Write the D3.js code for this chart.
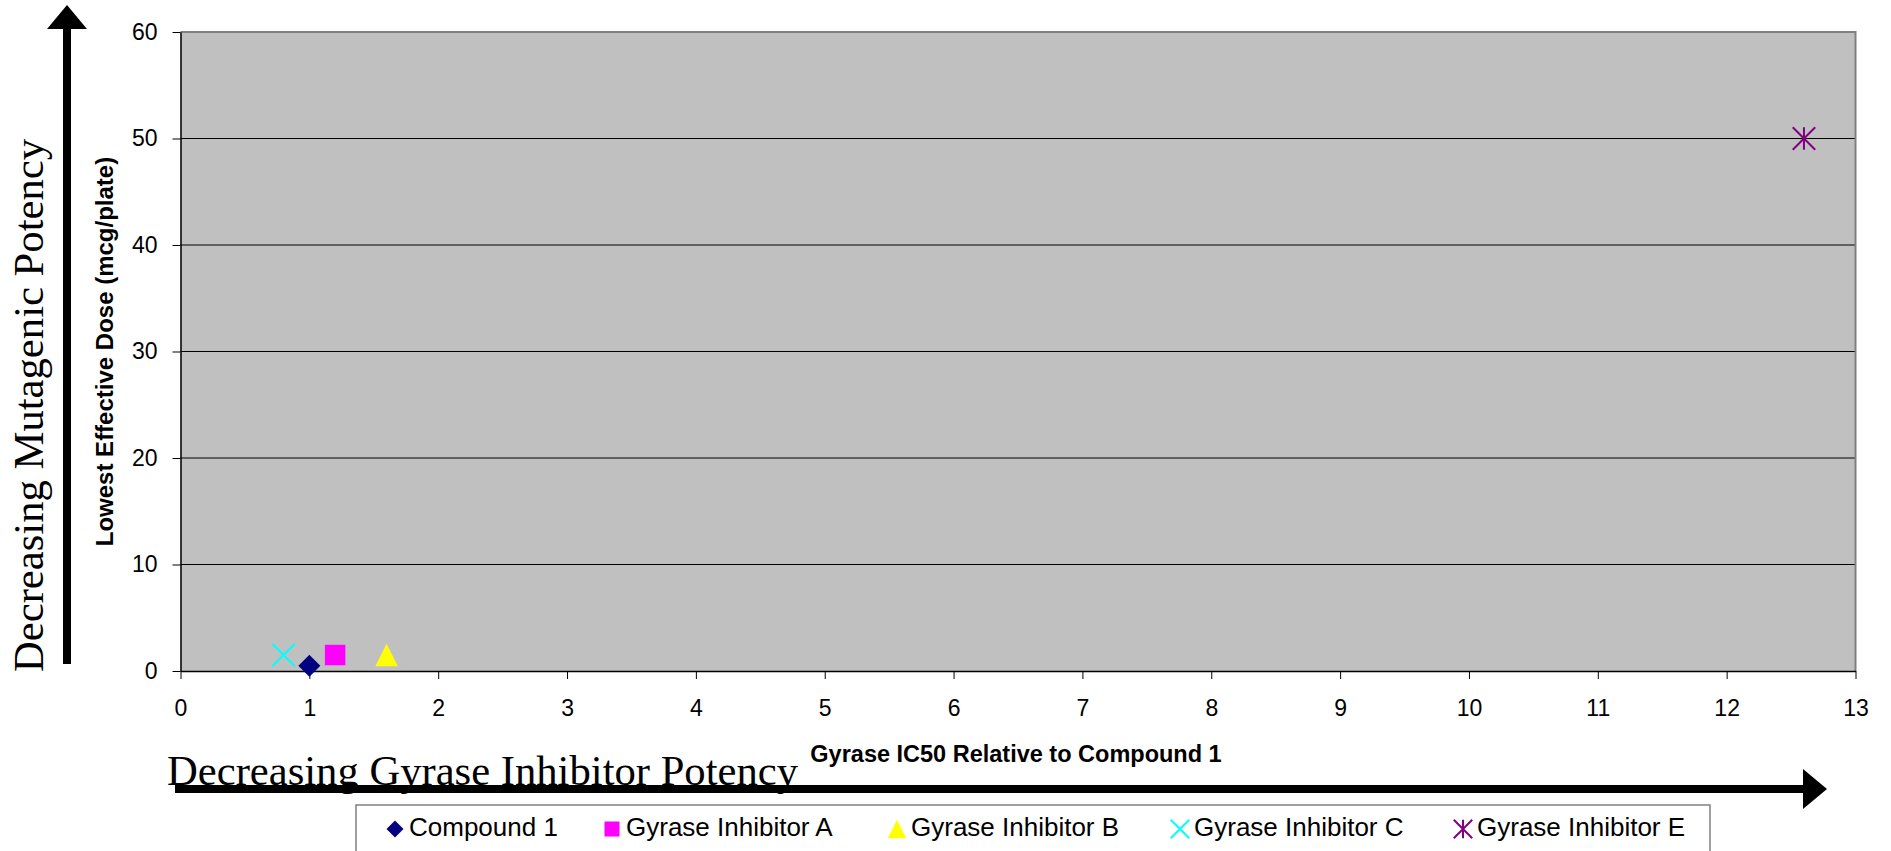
<!DOCTYPE html>
<html>
<head>
<meta charset="utf-8">
<script src="https://cdn.jsdelivr.net/npm/d3@7"></script>
<style>
  html, body { margin: 0; padding: 0; background: #fff; }
  svg { display: block; }
</style>
</head>
<body>
<svg id="chart" width="1891" height="851"></svg>
<script>
// Compounds and their measured values
const compounds = ["Compound 1", "Gyrase Inhibitor A", "Gyrase Inhibitor B", "Gyrase Inhibitor C", "Gyrase Inhibitor E"];
const ic50Relative = [1, 1.2, 1.6, 0.8, 12.6];        // Gyrase IC50 relative to Compound 1
const lowestEffectiveDose = [0.5, 1.5, 1.5, 1.5, 50];  // mcg/plate
const markerShapes = ["diamond", "square", "triangle", "x", "star"];
const markerColors = ["#000080", "#FF00FF", "#FFFF00", "#00FFFF", "#800080"];
const xTicks = d3.range(0, 14);
const yTicks = [0, 10, 20, 30, 40, 50, 60];

const svg = d3.select("#chart");
const plot = { left: 180.5, right: 1855.5, top: 32, bottom: 671 };

const x = d3.scaleLinear().domain([0, 13]).range([plot.left, plot.right]);
const y = d3.scaleLinear().domain([0, 60]).range([plot.bottom, plot.top]);

// Plot area
svg.append("rect")
  .attr("x", plot.left).attr("y", plot.top)
  .attr("width", plot.right - plot.left).attr("height", plot.bottom - plot.top)
  .attr("fill", "#C0C0C0");

// Horizontal gridlines
svg.append("g").selectAll("line")
  .data(yTicks.filter(d => d > 0 && d < 60))
  .join("line")
  .attr("x1", plot.left).attr("x2", plot.right)
  .attr("y1", d => y(d)).attr("y2", d => y(d))
  .attr("stroke", "#000").attr("stroke-width", 1);

// Top and right border
svg.append("path")
  .attr("d", `M${plot.left},${plot.top}H${plot.right}V${plot.bottom}`)
  .attr("fill", "none").attr("stroke", "#808080").attr("stroke-width", 2);

// Axes
const yAxis = d3.axisLeft(y).tickValues(yTicks).tickSize(8).tickPadding(15).tickSizeOuter(0);
const xAxis = d3.axisBottom(x).tickValues(xTicks).tickSize(8).tickPadding(21).tickSizeOuter(0);

const gy = svg.append("g").attr("transform", `translate(${plot.left},0)`).call(yAxis);
const gx = svg.append("g").attr("transform", `translate(0,${plot.bottom})`).call(xAxis);

[gx, gy].forEach(g => {
  g.select(".domain").attr("stroke", "#000").attr("stroke-width", 1.5);
  g.selectAll(".tick line").attr("stroke", "#000").attr("stroke-width", 1);
  g.selectAll(".tick text")
    .attr("fill", "#000")
    .style("font-family", "'Liberation Sans', Arial, sans-serif")
    .style("font-size", "23px");
});

// Axis titles
svg.append("text")
  .attr("transform", `translate(113,${(plot.top + plot.bottom) / 2}) rotate(-90)`)
  .attr("text-anchor", "middle")
  .style("font-family", "'Liberation Sans', Arial, sans-serif")
  .style("font-weight", "bold")
  .style("font-size", "24px")
  .text("Lowest Effective Dose (mcg/plate)");

svg.append("text")
  .attr("x", (plot.left + plot.right) / 2 - 2)
  .attr("y", 762)
  .attr("text-anchor", "middle")
  .style("font-family", "'Liberation Sans', Arial, sans-serif")
  .style("font-weight", "bold")
  .style("font-size", "23.5px")
  .text("Gyrase IC50 Relative to Compound 1");

// Marker shapes
function markerPath(shape, s) {
  const h = s / 2;
  switch (shape) {
    case "diamond": return `M0,${-h}L${h},0L0,${h}L${-h},0Z`;
    case "square": return `M${-h},${-h}H${h}V${h}H${-h}Z`;
    case "triangle": return `M0,${-h}L${h},${h}H${-h}Z`;
    case "x": return `M${-h},${-h}L${h},${h}M${h},${-h}L${-h},${h}`;
    case "star": return `M${-h},${-h}L${h},${h}M${h},${-h}L${-h},${h}M0,${-h}V${h}`;
  }
}
function styleMarker(sel, i) {
  const shape = markerShapes[i];
  const stroked = shape === "x" || shape === "star";
  sel.attr("fill", stroked ? "none" : markerColors[i])
     .attr("stroke", stroked ? markerColors[i] : "none")
     .attr("stroke-width", stroked ? 2 : 0);
}

const plotSizes = { diamond: 22, square: 20.5, triangle: 22.5, x: 22.5, star: 22.5 };
const points = compounds.map((c, i) => ({ name: c, x: ic50Relative[i], y: lowestEffectiveDose[i], i }));

svg.append("g").selectAll("path")
  .data(points)
  .join("path")
  .attr("transform", d => `translate(${x(d.x)},${y(d.y)})`)
  .attr("d", d => markerPath(markerShapes[d.i], plotSizes[markerShapes[d.i]]))
  .each(function(d) { styleMarker(d3.select(this), d.i); });

// Direction arrows with their captions
const serif = "'Liberation Serif', 'Times New Roman', serif";

svg.append("rect").attr("x", 63).attr("y", 27).attr("width", 8).attr("height", 637).attr("fill", "#000");
svg.append("path").attr("d", "M67,5L87,29H47Z").attr("fill", "#000");

svg.append("text")
  .attr("transform", "translate(43,672) rotate(-90)")
  .attr("textLength", 533).attr("lengthAdjust", "spacingAndGlyphs")
  .style("font-family", serif).style("font-size", "43px")
  .text("Decreasing Mutagenic Potency");

svg.append("text")
  .attr("x", 167).attr("y", 785)
  .attr("textLength", 631).attr("lengthAdjust", "spacingAndGlyphs")
  .style("font-family", serif).style("font-size", "42px")
  .text("Decreasing Gyrase Inhibitor Potency");

svg.append("rect").attr("x", 175).attr("y", 785).attr("width", 1630).attr("height", 8).attr("fill", "#000");
svg.append("path").attr("d", "M1827,789L1803,769V809Z").attr("fill", "#000");

// Legend: one slot per entry, marker followed by its label
const legend = svg.append("g");
legend.append("rect")
  .attr("x", 356).attr("y", 805).attr("width", 1354).attr("height", 60)
  .attr("fill", "#fff").attr("stroke", "#808080").attr("stroke-width", 1.5);

const legendSizes = { diamond: 17, square: 15, triangle: 18.5, x: 18.5, star: 18.5 };
const legendSlotX = [395, 612, 897, 1180, 1463];
compounds.forEach((name, i) => {
  const lx = legendSlotX[i];
  const item = legend.append("g");
  item.append("path")
    .attr("transform", `translate(${lx},829)`)
    .attr("d", markerPath(markerShapes[i], legendSizes[markerShapes[i]]))
    .call(styleMarker, i);
  item.append("text")
    .attr("x", lx + 14).attr("y", 835.5)
    .style("font-family", "'Liberation Sans', Arial, sans-serif")
    .style("font-size", "26px")
    .text(name);
});
</script>
</body>
</html>
